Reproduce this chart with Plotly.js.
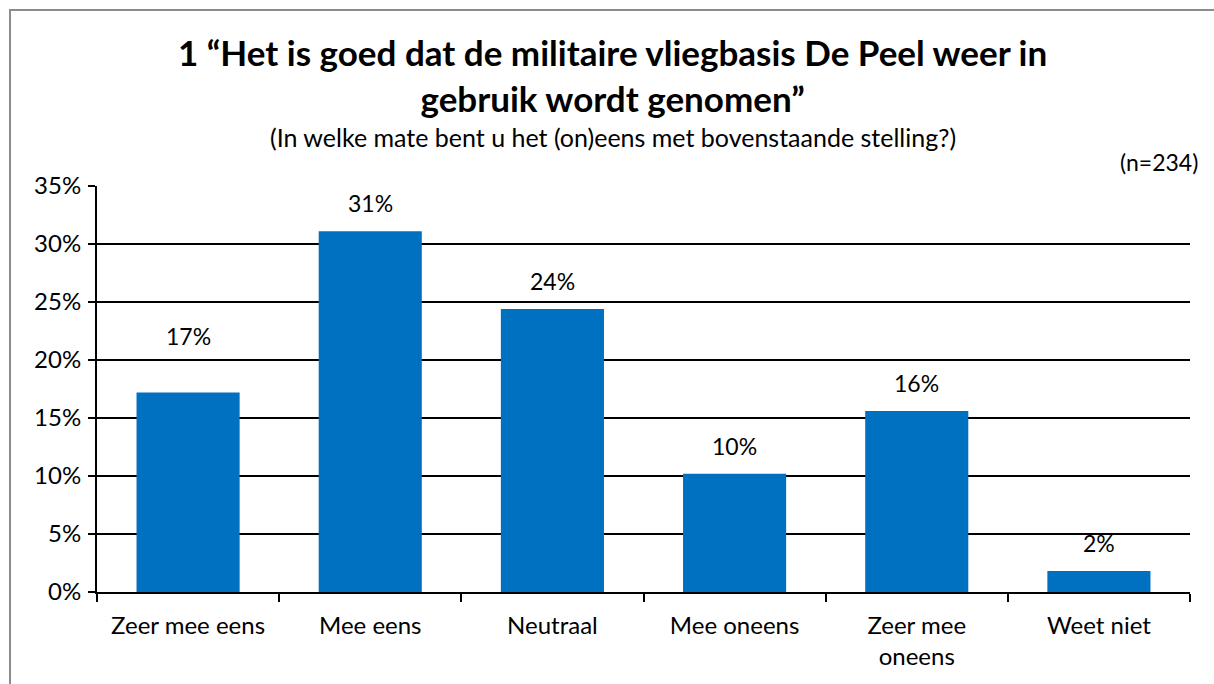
<!DOCTYPE html>
<html>
<head>
<meta charset="utf-8">
<script src="https://cdn.plot.ly/plotly-3.0.1.min.js"></script>
<style>
  html, body { margin: 0; padding: 0; background: #fff; overflow: hidden; }
  #frame { position: absolute; left: 9px; top: 9px; width: 1220px; height: 700px; border: 2px solid #8c8c8c; box-sizing: border-box; }
  #chart { position: absolute; left: 0; top: 0; width: 1214px; height: 684px; }
</style>
</head>
<body>
<div id="frame"></div>
<div id="chart"></div>
<script>
const categories = ["Zeer mee eens", "Mee eens", "Neutraal", "Mee oneens", "Zeer mee<br>oneens", "Weet niet"];
const values = [17.2, 31.1, 24.4, 10.2, 15.6, 1.8];
const valueLabels = ["17%", "31%", "24%", "10%", "16%", "2%"];
const yTickVals = [0, 5, 10, 15, 20, 25, 30, 35];
const yTickText = ["0%", "5%", "10%", "15%", "20%", "25%", "30%", "35%"];

const FONT = "Lato, 'Open Sans', sans-serif";
const W = 1214, H = 684;
const M = { l: 97, r: 24, t: 186, b: 92 };
// helpers: page pixel -> paper fraction
const px = x => (x - M.l) / (W - M.l - M.r);
const py = y => (H - M.b - y) / (H - M.t - M.b);

const trace = {
  type: "bar",
  x: categories,
  y: values,
  marker: { color: "#0070C0", line: { width: 0 } },
  hoverinfo: "skip"
};

const annotations = categories.map((c, i) => ({
  x: c, y: values[i], xref: "x", yref: "y",
  text: valueLabels[i], showarrow: false,
  yanchor: "bottom", yshift: i === 0 ? 40 : 12,
  font: { family: FONT, size: 23, color: "#000" }
}));

annotations.push({
  xref: "paper", yref: "paper", x: px(613), y: py(137),
  xanchor: "center", yanchor: "middle", showarrow: false,
  text: "(In welke mate bent u het (on)eens met bovenstaande stelling?)",
  font: { family: FONT, size: 25, color: "#000" }
});
annotations.push({
  xref: "paper", yref: "paper", x: px(1200), y: py(162),
  xanchor: "right", yanchor: "middle", showarrow: false,
  text: "(n=234)",
  font: { family: FONT, size: 23, color: "#000" }
});
annotations.push({
  xref: "paper", yref: "paper", x: px(612), y: py(75),
  xanchor: "center", yanchor: "middle", showarrow: false,
  text: "<b>1 “Het is goed dat de militaire vliegbasis De Peel weer in<br>gebruik wordt genomen”</b>",
  font: { family: FONT, size: 35, color: "#000" }
});

const layout = {
  width: W, height: H,
  margin: M,
  paper_bgcolor: "rgba(0,0,0,0)",
  plot_bgcolor: "rgba(0,0,0,0)",
  bargap: 0.434,
  showlegend: false,
  xaxis: {
    type: "category",
    range: [-0.5, categories.length - 0.5],
    showline: true, linecolor: "#000", linewidth: 2,
    ticks: "outside", tickson: "boundaries", ticklen: 8, tickcolor: "#000", tickwidth: 2,
    showgrid: false,
    tickfont: { family: FONT, size: 24, color: "#000" },
    ticklabelstandoff: 11
  },
  yaxis: {
    range: [0, 35],
    tickvals: yTickVals, ticktext: yTickText,
    showline: true, linecolor: "#000", linewidth: 2,
    ticks: "outside", ticklen: 7, tickcolor: "#000", tickwidth: 2,
    showgrid: true, gridcolor: "#000", gridwidth: 1.5,
    zeroline: false,
    tickfont: { family: FONT, size: 24, color: "#000" },
    ticklabelstandoff: 2
  },
  annotations: annotations
};

Plotly.newPlot("chart", [trace], layout, { displayModeBar: false, staticPlot: true });
</script>
</body>
</html>
